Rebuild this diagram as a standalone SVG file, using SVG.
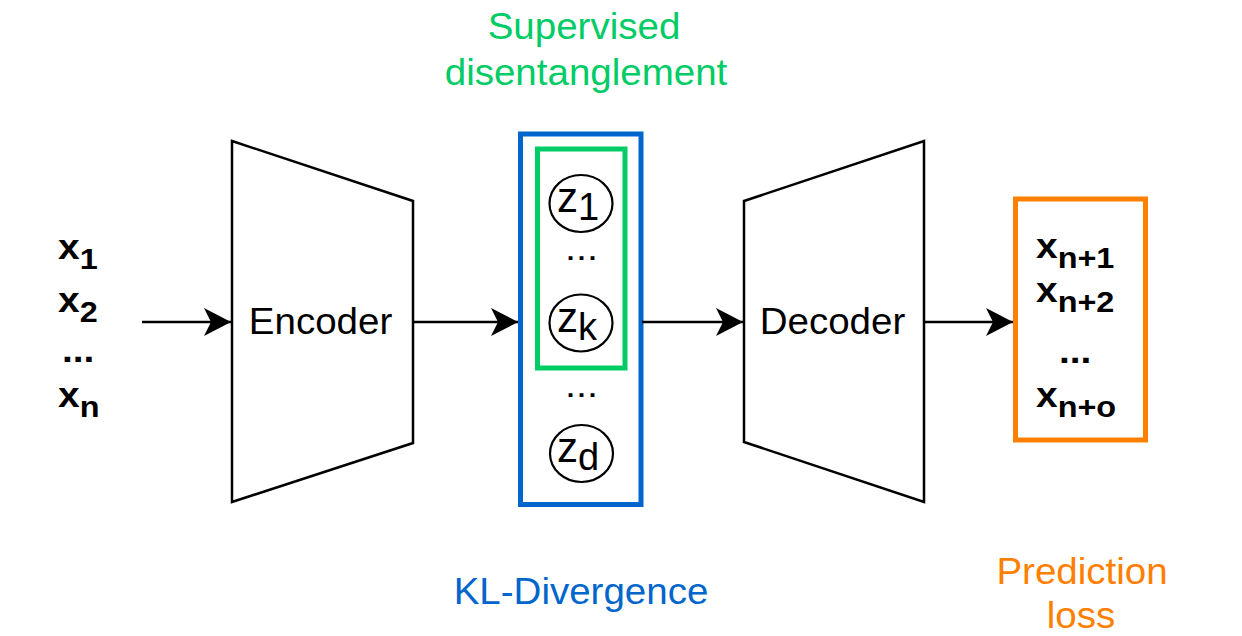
<svg xmlns="http://www.w3.org/2000/svg" width="1242" height="636" viewBox="0 0 1242 636">
  <style>
    .t { font-family: "Liberation Sans", Arial, Helvetica, sans-serif; font-size: 36px; fill: #000; }
    .b { font-weight: bold; }
    .z { font-family: "Liberation Sans", Arial, Helvetica, sans-serif; font-size: 42px; fill: #000; }
    .green { fill: #00CC66; }
    .blue { fill: #0066CC; }
    .orange { fill: #FF8000; }
    .shape { fill: #fff; stroke: #000; stroke-width: 2.5; }
    .latent { fill: #fff; stroke: #000; stroke-width: 2.2; }
    .edge { fill: none; stroke: #000; stroke-width: 2.5; marker-end: url(#arrow); }
  </style>
  <defs>
    <marker id="arrow" viewBox="-28 -15 29 30" refX="0" refY="0" markerWidth="29" markerHeight="30" markerUnits="userSpaceOnUse" orient="auto">
      <path d="M0,0 L-27,-14 L-20,0 L-27,14 Z" fill="#000"/>
    </marker>
  </defs>

  <rect width="1242" height="636" fill="#fff"/>

  <!-- input sequence -->
  <g id="inputs">
    <g transform="translate(58,259) scale(1.08,1)"><text class="t b" font-size="35">x<tspan font-size="30" dy="10">1</tspan></text></g>
    <g transform="translate(58,312) scale(1.08,1)"><text class="t b" font-size="35">x<tspan font-size="30" dy="10">2</tspan></text></g>
    <g transform="translate(62,362) scale(1.08,1)"><text class="t b" font-size="35">...</text></g>
    <g transform="translate(58,407) scale(1.08,1)"><text class="t b" font-size="35">x<tspan font-size="30" dy="10">n</tspan></text></g>
  </g>

  <!-- encoder -->
  <g id="encoder">
    <polygon class="shape" points="232,141 413,201 413,443 232,502"/>
    <g transform="translate(320.5,334) scale(1.07,1)"><text class="t" text-anchor="middle">Encoder</text></g>
  </g>

  <!-- latent space -->
  <g id="latent">
    <rect x="520.5" y="134" width="120.5" height="370.5" fill="#fff" stroke="#0066CC" stroke-width="5"/>
    <rect x="537.5" y="149" width="87.5" height="219" fill="none" stroke="#00CC66" stroke-width="5"/>
  </g>
  <g id="z1">
    <ellipse class="latent" cx="581" cy="203.5" rx="31.5" ry="28.5"/>
    <text class="z" x="557" y="212">z<tspan dy="8" font-size="38">1</tspan></text>
  </g>
  <g transform="translate(565,260) scale(1.1,1)"><text class="t" font-size="30">...</text></g>
  <g id="zk">
    <ellipse class="latent" cx="581" cy="323" rx="31.5" ry="28.5"/>
    <text class="z" x="557" y="331.5">z<tspan dy="8" font-size="38">k</tspan></text>
  </g>
  <g transform="translate(565,397) scale(1.1,1)"><text class="t" font-size="30">...</text></g>
  <g id="zd">
    <ellipse class="latent" cx="581.5" cy="453.5" rx="31.5" ry="28.5"/>
    <text class="z" x="557" y="462">z<tspan dy="8" font-size="38">d</tspan></text>
  </g>

  <!-- decoder -->
  <g id="decoder">
    <polygon class="shape" points="744,201 924,141 924,502 744,442"/>
    <g transform="translate(832.5,334) scale(1.07,1)"><text class="t" text-anchor="middle">Decoder</text></g>
  </g>

  <!-- predicted sequence -->
  <g id="outputs">
    <rect x="1015.5" y="199" width="130" height="241" fill="#fff" stroke="#FF8000" stroke-width="5"/>
    <g transform="translate(1036,258) scale(1.08,1)"><text class="t b" font-size="35">x<tspan font-size="30" dy="10">n+1</tspan></text></g>
    <g transform="translate(1036,302) scale(1.08,1)"><text class="t b" font-size="35">x<tspan font-size="30" dy="10">n+2</tspan></text></g>
    <g transform="translate(1059,363) scale(1.08,1)"><text class="t b" font-size="35">...</text></g>
    <g transform="translate(1036,407) scale(1.08,1)"><text class="t b" font-size="35">x<tspan font-size="30" dy="10">n+o</tspan></text></g>
  </g>

  <!-- annotations -->
  <g id="supervised-label">
    <g transform="translate(584,39) scale(1.07,1)"><text class="t green" text-anchor="middle">Supervised</text></g>
    <g transform="translate(586,85) scale(1.07,1)"><text class="t green" text-anchor="middle">disentanglement</text></g>
  </g>
  <g id="kl-label">
    <g transform="translate(581,604) scale(1.07,1)"><text class="t blue" text-anchor="middle">KL-Divergence</text></g>
  </g>
  <g id="loss-label">
    <g transform="translate(1082,584) scale(1.07,1)"><text class="t orange" text-anchor="middle">Prediction</text></g>
    <g transform="translate(1081,628) scale(1.07,1)"><text class="t orange" text-anchor="middle">loss</text></g>
  </g>

  <!-- connectors -->
  <g id="connectors">
    <line class="edge" x1="142" y1="322" x2="231" y2="322"/>
    <line class="edge" x1="413" y1="322" x2="518" y2="322"/>
    <line class="edge" x1="642" y1="322" x2="743" y2="322"/>
    <line class="edge" x1="924" y1="322" x2="1013" y2="322"/>
  </g>
</svg>
